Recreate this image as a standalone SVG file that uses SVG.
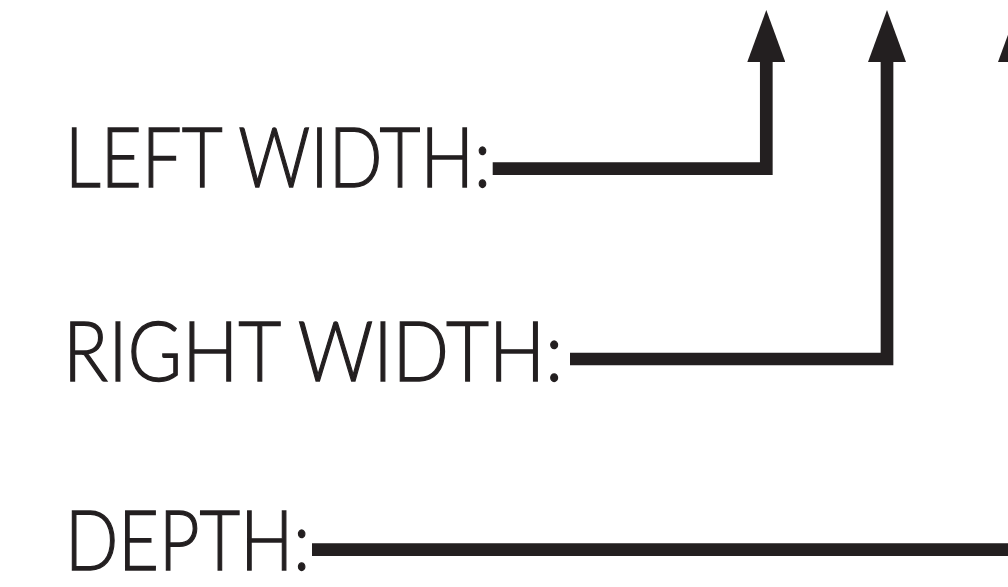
<svg xmlns="http://www.w3.org/2000/svg" width="1008" height="587" viewBox="0 0 1008 587">
  <style>
    .lbl { font-family: Lato, "Liberation Sans", sans-serif; font-weight: 300; font-size: 83px; fill: #231f20; stroke: #231f20; stroke-width: 1.3; }
    .conn { fill: none; stroke: #231f20; stroke-width: 12.7; stroke-linejoin: miter; stroke-linecap: butt; marker-end: url(#head); }
  </style>
  <defs>
    <marker id="head" markerUnits="userSpaceOnUse" markerWidth="53" markerHeight="38" refX="1" refY="19" orient="auto" viewBox="0 0 53 38">
      <path d="M0,0 L52,19 L0,38 Z" fill="#231f20"/>
    </marker>
  </defs>
  <rect width="1008" height="587" fill="#ffffff"/>
  <g id="connectors">
    <path class="conn" d="M492.7,168.7 H766.3 V61"/>
    <path class="conn" d="M570,359 H887 V61"/>
    <path class="conn" d="M312,549.7 H1017 V61"/>
  </g>
  <g id="left-width">
    <text class="lbl" x="65" y="187" textLength="426" lengthAdjust="spacingAndGlyphs">LEFT WIDTH:</text>
  </g>
  <g id="right-width">
    <text class="lbl" x="63" y="381" textLength="500" lengthAdjust="spacingAndGlyphs">RIGHT WIDTH:</text>
  </g>
  <g id="depth">
    <text class="lbl" x="65" y="570" textLength="245" lengthAdjust="spacingAndGlyphs">DEPTH:</text>
  </g>
</svg>
